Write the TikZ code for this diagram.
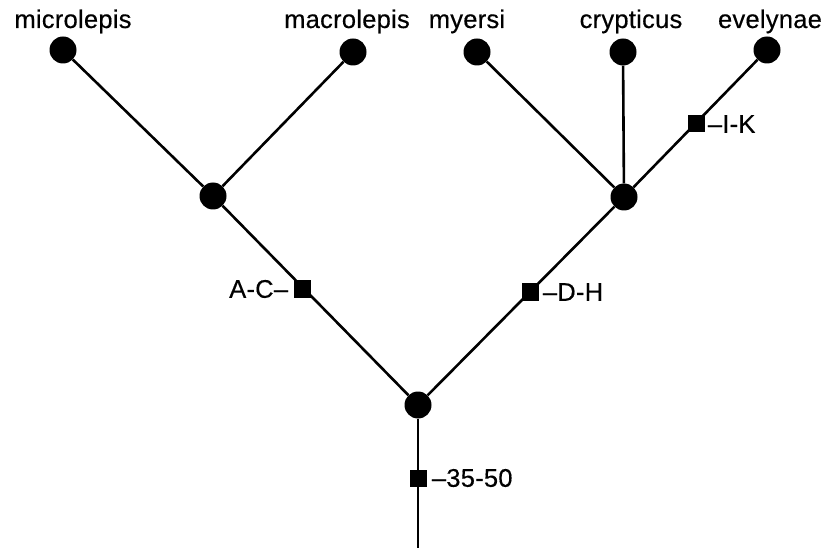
\documentclass[tikz,border=0pt]{standalone}
\usepackage{fontspec}
\setmainfont[LetterSpace=1,FakeBold=0.4]{Liberation Sans}
\begin{document}
\begin{tikzpicture}[x=1pt,y=-1pt,
  dot/.style={circle,fill=black,inner sep=0pt,minimum size=27pt},
  sq/.style={rectangle,fill=black,inner sep=0pt,minimum size=17pt},
  br/.style={line width=2.6pt},
  txt/.style={font=\fontsize{25.5}{28}\selectfont,inner sep=0pt},
  lab/.style={font=\fontsize{25.5}{28}\selectfont,inner sep=0pt}]
\useasboundingbox (0,0) rectangle (825,548);
% tip nodes
\node[dot] (mic) at (63,50) {};
\node[dot] (mac) at (353,52) {};
\node[dot] (mye) at (477,52) {};
\node[dot] (cry) at (623,52) {};
\node[dot] (eve) at (767,50) {};
\node[dot] (L) at (213,196) {};
\node[dot] (R) at (624,197) {};
\node[dot] (root) at (418,405) {};
\coordinate (base) at (418,548);
% names
\node[txt,anchor=base] (tmic) at (73,28) {microlepis};
\node[txt,anchor=base] (tmac) at (347,28) {macrolepis};
\node[txt,anchor=base] (tmye) at (467,28) {myersi};
\node[txt,anchor=base] (tcry) at (631,28) {crypticus};
\node[txt,anchor=base] (teve) at (770,28) {evelynae};
% branches
\draw[br] (mic) -- (L);
\draw[br] (mac) -- (L);
\draw[br] (mye) -- (R);
\draw[br] (cry) -- (R);
\draw[br] (eve) -- (R);
\draw[br] (L) -- (root);
\draw[br] (R) -- (root);
\draw[br] (root) -- (base);
% marks
\node[sq] (sAC) at (302,289) {};
\node[sq] (sDH) at (530,292) {};
\node[sq] (sIK) at (696,124) {};
\node[sq] (s35) at (418,478) {};
\node[lab,anchor=east] (lAC) at ([xshift=-5pt]sAC.west) {A-C–};
\node[lab,anchor=west] (lDH) at ([xshift=4pt]sDH.east) {–D-H};
\node[lab,anchor=west] (lIK) at ([xshift=3pt]sIK.east) {–I-K};
\node[lab,anchor=west] (l35) at ([xshift=5pt]s35.east) {–35-50};
\end{tikzpicture}
\end{document}
